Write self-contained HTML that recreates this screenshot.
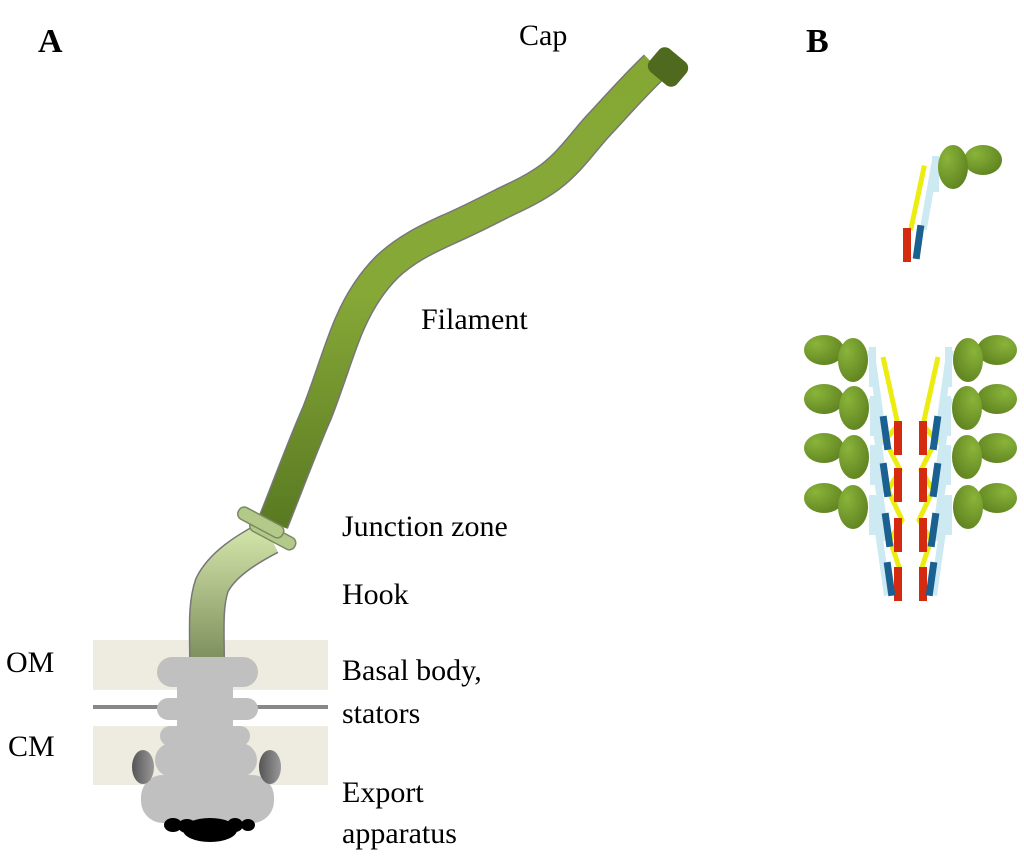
<!DOCTYPE html>
<html><head><meta charset="utf-8"><style>
body{margin:0;background:#fff}
svg text{font-family:"Liberation Serif",serif;fill:#000}
</style></head><body>
<svg width="1024" height="863" viewBox="0 0 1024 863" xmlns="http://www.w3.org/2000/svg">
<defs>
<linearGradient id="fil" x1="0" y1="1" x2="0" y2="0"><stop offset="0" stop-color="#5a7a22"/><stop offset="0.5" stop-color="#86a837"/><stop offset="1" stop-color="#85a835"/></linearGradient>
<linearGradient id="hook" x1="0" y1="0" x2="0" y2="1"><stop offset="0" stop-color="#cfe0a6"/><stop offset="1" stop-color="#7d8f5c"/></linearGradient>
<linearGradient id="stat" x1="0" y1="0" x2="1" y2="0"><stop offset="0" stop-color="#555"/><stop offset="1" stop-color="#999"/></linearGradient>
<radialGradient id="gr" cx="0.3" cy="0.3" r="0.8"><stop offset="0" stop-color="#8ab43a"/><stop offset="1" stop-color="#5e8220"/></radialGradient>
</defs>
<!-- membranes -->
<rect x="93" y="640" width="235" height="50" fill="#eeebe0"/>
<rect x="93" y="726" width="235" height="59" fill="#eeebe0"/>
<rect x="93" y="705" width="235" height="4" fill="#888"/>
<!-- filament -->
<path d="M273,523 C290,480 305,440 317,413 C330,380 340,345 350,323 C360,300 372,282 387,267 C405,250 425,240 447,230 C470,220 485,212 503,203 C520,195 535,188 550,177 C570,162 585,140 597,127 C615,108 630,90 655,66" fill="none" stroke="#777" stroke-width="32"/>
<path d="M273,523 C290,480 305,440 317,413 C330,380 340,345 350,323 C360,300 372,282 387,267 C405,250 425,240 447,230 C470,220 485,212 503,203 C520,195 535,188 550,177 C570,162 585,140 597,127 C615,108 630,90 655,66" fill="none" stroke="url(#fil)" stroke-width="29"/>
<rect x="650" y="52" width="36" height="30" rx="8" fill="#4f6a1e" transform="rotate(40 668 67)"/>
<!-- hook -->
<path d="M270,537 C245,550 222,565 212,585 C205,605 207,630 207,660" fill="none" stroke="#777" stroke-width="36"/>
<path d="M270,537 C245,550 222,565 212,585 C205,605 207,630 207,660" fill="none" stroke="url(#hook)" stroke-width="33"/>
<g fill="#b3c98a" stroke="#7a8a60" stroke-width="1.5">
<rect x="248" y="528" width="50" height="13" rx="6" transform="rotate(28 273 534)"/>
<rect x="236" y="516" width="50" height="13" rx="6" transform="rotate(28 261 522)"/>
</g>
<!-- basal body -->
<g fill="#c0c0c0">
<rect x="157" y="657" width="101" height="30" rx="15"/>
<rect x="177" y="680" width="56" height="100"/>
<rect x="157" y="698" width="101" height="22" rx="11"/>
<rect x="160" y="726" width="90" height="20" rx="10"/>
<rect x="155" y="743" width="102" height="34" rx="17"/>
<rect x="141" y="775" width="133" height="48" rx="22"/>
</g>
<ellipse cx="143" cy="767" rx="11" ry="17" fill="url(#stat)"/>
<ellipse cx="270" cy="767" rx="11" ry="17" fill="url(#stat)"/>
<g fill="#000">
<ellipse cx="210" cy="830" rx="27" ry="12"/>
<ellipse cx="173" cy="825" rx="9" ry="7"/>
<ellipse cx="187" cy="826" rx="9" ry="7"/>
<ellipse cx="235" cy="825" rx="8" ry="7"/>
<ellipse cx="248" cy="825" rx="7" ry="6"/>
</g>
<!-- labels -->
<text x="38" y="52" font-size="34" font-weight="bold">A</text>
<text x="806" y="52" font-size="34" font-weight="bold">B</text>
<g font-size="30">
<text x="519" y="45">Cap</text>
<text x="421" y="329">Filament</text>
<text x="342" y="536">Junction zone</text>
<text x="342" y="604">Hook</text>
<text x="342" y="680">Basal body,</text>
<text x="342" y="723">stators</text>
<text x="342" y="802">Export</text>
<text x="342" y="843">apparatus</text>
<text x="6" y="672">OM</text>
<text x="8" y="756">CM</text>
</g>
<!-- panel B top monomer -->
<g>
<rect x="926" y="158" width="7" height="72" fill="#cde9f2" transform="rotate(10 930 194)"/>
<rect x="932" y="156" width="7" height="36" fill="#cde9f2"/>
<rect x="915" y="165" width="5" height="66" fill="#ecec10" transform="rotate(12 918 198)"/>
<rect x="903" y="228" width="8" height="34" fill="#d32a10"/>
<rect x="915" y="225" width="7" height="34" fill="#1a6090" transform="rotate(8 918 242)"/>
<ellipse cx="983" cy="160" rx="19" ry="15" fill="url(#gr)"/>
<ellipse cx="953" cy="167" rx="15" ry="22" fill="url(#gr)"/>
</g>
<!-- panel B bottom -->
<g id="half">
<g fill="#cde9f2">
<rect x="869" y="347" width="7" height="40" />
<rect x="874" y="350" width="7" height="95" transform="rotate(-8 877 397)"/>
<rect x="870" y="396" width="7" height="40"/>
<rect x="875" y="398" width="7" height="95" transform="rotate(-8 878 445)"/>
<rect x="870" y="445" width="7" height="40"/>
<rect x="876" y="446" width="7" height="95" transform="rotate(-8 879 493)"/>
<rect x="869" y="495" width="7" height="40"/>
<rect x="877" y="496" width="7" height="100" transform="rotate(-8 880 546)"/>
</g>
<path d="M883,357 L898,425 L885,440 L900,470 L888,490 L902,520 L890,540 L900,570" fill="none" stroke="#ecec10" stroke-width="5"/>
<g fill="#d32a10">
<rect x="894" y="421" width="8" height="34"/>
<rect x="894" y="468" width="8" height="34"/>
<rect x="894" y="518" width="8" height="34"/>
<rect x="894" y="567" width="8" height="34"/>
</g>
<g fill="#1a6090">
<rect x="882" y="416" width="7" height="34" transform="rotate(-8 885 433)"/>
<rect x="882" y="463" width="7" height="34" transform="rotate(-8 885 480)"/>
<rect x="884" y="513" width="7" height="34" transform="rotate(-8 887 530)"/>
<rect x="886" y="562" width="7" height="34" transform="rotate(-8 889 579)"/>
</g>
<g fill="url(#gr)">
<ellipse cx="824" cy="350" rx="20" ry="15"/><ellipse cx="853" cy="360" rx="15" ry="22"/>
<ellipse cx="824" cy="399" rx="20" ry="15"/><ellipse cx="854" cy="408" rx="15" ry="22"/>
<ellipse cx="824" cy="448" rx="20" ry="15"/><ellipse cx="854" cy="457" rx="15" ry="22"/>
<ellipse cx="824" cy="498" rx="20" ry="15"/><ellipse cx="853" cy="507" rx="15" ry="22"/>
</g>
</g>
<use href="#half" transform="translate(1821 0) scale(-1 1)"/>
</svg>
</body></html>
